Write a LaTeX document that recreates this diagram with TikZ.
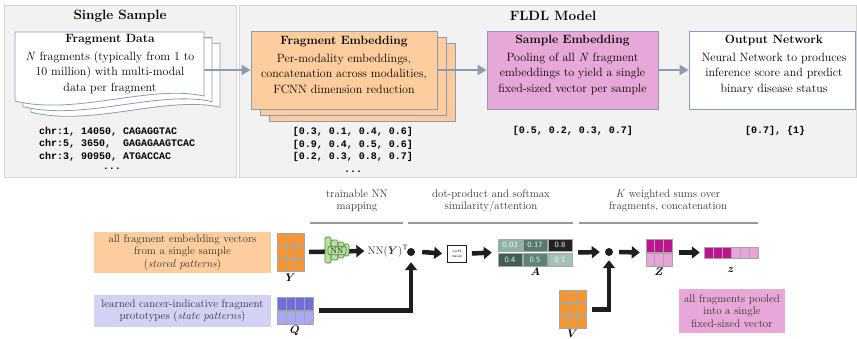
\documentclass[tikz,border=0pt]{standalone}
\usepackage{fontspec}
\usepackage{bm}
\newfontfamily\codefont{Liberation Mono}
\usetikzlibrary{arrows.meta}
\usetikzlibrary{positioning}
\usetikzlibrary{fit}

\definecolor{panelgray}{HTML}{F2F2F2}
\definecolor{panelline}{HTML}{D4D4D4}
\definecolor{boxline}{HTML}{8A9BB2}
\definecolor{embedorange}{HTML}{FDCD9D}
\definecolor{samplepink}{HTML}{E7A8D8}
\definecolor{cellorange}{HTML}{F7952F}
\definecolor{protolilac}{HTML}{D2D2F5}
\definecolor{qdark}{HTML}{6E6EDC}
\definecolor{qlight}{HTML}{A8A8F5}
\definecolor{zdark}{HTML}{BE1490}
\definecolor{zlight}{HTML}{E8A4D8}
\definecolor{nngreen}{HTML}{B8E2A2}
\definecolor{nnline}{HTML}{4E7D3E}
\definecolor{flowblack}{HTML}{1E1E1E}
\definecolor{textgray}{HTML}{333333}
\definecolor{attA}{HTML}{8DB5A5}
\definecolor{attB}{HTML}{55796B}
\definecolor{attC}{HTML}{222222}
\definecolor{attD}{HTML}{3E5F52}
\definecolor{attE}{HTML}{5B8272}
\definecolor{attF}{HTML}{A2C2B4}

\begin{document}
\begin{tikzpicture}[x=1pt, y=-1pt,
    panel/.style={fill=panelgray, draw=panelline, line width=0.8pt},
    stage/.style={draw=boxline, line width=0.9pt, minimum width=186pt, minimum height=78pt},
    stagetext/.style={align=center, font=\fontsize{12}{15.5}\selectfont},
    pagestyle/.style={fill=white, draw=boxline, line width=0.8pt},
    code/.style={font=\codefont\bfseries\fontsize{10}{12.7}\selectfont, inner sep=0pt},
    flow/.style={draw=boxline, line width=2.6pt, -{Triangle[length=9pt, width=10pt]}},
    thick arrow/.style={draw=flowblack, line width=4.5pt, -{Triangle[length=8pt, width=12pt]}},
    note/.style={align=center, text=textgray, font=\fontsize{11}{12.5}\selectfont, inner sep=0pt},
    stepline/.style={draw=gray!80, line width=1.2pt},
    cell/.style={draw=gray!70, line width=0.7pt},
    nnlayer/.style={fill=nngreen, draw=nnline, line width=0.7pt, rounded corners=1.5pt},
    mlabel/.style={font=\fontsize{11}{12}\selectfont, inner sep=0pt}]
  \useasboundingbox (0,0) rectangle (857,338);

  % top panels
  \draw[panel] (4,5) rectangle (236,177);
  \draw[panel] (239,5) rectangle (856.5,177);
  \node[font=\bfseries\fontsize{13.5}{15}\selectfont] (sampletitle) at (120,16) {Single Sample};
  \node[font=\bfseries\fontsize{13.5}{15}\selectfont] (modeltitle) at (553,16) {FLDL Model};

  % stack of fragment pages
  \foreach \d in {16,8,0} {
    \begin{scope}[shift={(\d,0.7*\d)}]
      \draw[pagestyle] (15,32) -- (204,32) -- (204,96)
        .. controls (150,84) and (75,116) .. (15,101) -- cycle;
    \end{scope}
  }
  \coordinate (fragdata) at (204,70);
  \node[stagetext] (fragdatatext) at (110,64)
    {\textbf{Fragment Data}\\[2pt] \emph{N} fragments (typically from 1 to\\ 10 million) with multi-modal\\ data per fragment};

  \node[code, anchor=west, align=left] (reads) at (39,144)
    {chr:1, 14050, CAGAGGTAC\\chr:5, 3650,\ \ GAGAGAAGTCAC\\chr:3, 90950, ATGACCAC};
  \node[code] (readdots) at (112,169) {...};

  % fragment embedding, three copies
  \node[stage, fill=embedorange] (embback) at (362,82) {};
  \node[stage, fill=embedorange] (embmid) at (353,76) {};
  \node[stage, fill=embedorange] (fragemb) at (344,70) {};
  \node[stagetext] (fragembtext) at (344,65)
    {\textbf{Fragment Embedding}\\[2pt] Per-modality embeddings,\\ concatenation across modalities,\\ FCNN dimension reduction};
  \node[code, align=center] (embvecs) at (353,150)
    {[0.3, 0.1, 0.4, 0.6]\\{}[0.9, 0.4, 0.5, 0.6]\\{}[0.2, 0.3, 0.8, 0.7]\\...};

  % sample embedding and output network
  \node[stage, fill=samplepink, minimum width=171pt] (sampleemb) at (572.5,70) {};
  \node[stagetext] (sampleembtext) at (572.5,65)
    {\textbf{Sample Embedding}\\[2pt] Pooling of all \emph{N} fragment\\ embeddings to yield a single\\ fixed-sized vector per sample};
  \node[code] (samplevec) at (573,131) {[0.5, 0.2, 0.3, 0.7]};

  \node[stage, fill=white, minimum width=166pt] (outnet) at (772,70) {};
  \node[stagetext] (outnettext) at (774,65)
    {\textbf{Output Network}\\[2pt] Neural Network to produces\\ inference score and predict\\ binary disease status};
  \node[code] (outvec) at (775,131) {[0.7], \{1\}};

  \draw[flow] (fragdata) -- (fragemb.west);
  \draw[flow] (fragemb.east) -- (sampleemb.west);
  \draw[flow] (sampleemb.east) -- (outnet.west);

  % step headings
  \node[note] (nnhead) at (357,201) {trainable NN\\ mapping};
  \node[note] (atthead) at (491,201) {dot-product and softmax\\ similarity/attention};
  \node[note] (sumhead) at (668,201) {\emph{K} weighted sums over\\ fragments, concatenation};
  \draw[stepline] (310,223) -- (403,223);
  \draw[stepline] (408,223) -- (573,223);
  \draw[stepline] (579,223) -- (758,223);

  % pattern descriptions
  \node[note, fill=embedorange, minimum width=177pt, minimum height=41pt] (storedbox) at (182.5,252.5)
    {all fragment embedding vectors\\ from a single sample\\ (\emph{stored patterns})};
  \node[note, fill=protolilac, minimum width=177pt, minimum height=32pt] (statebox) at (182.5,311)
    {learned cancer-indicative fragment\\ prototypes (\emph{state patterns})};
  \node[note, fill=samplepink, minimum width=106pt, minimum height=44pt] (pooledbox) at (732,311)
    {all fragments pooled\\ into a single\\ fixed-sized vector};

  % Y and V matrices
  \foreach \r in {0,1,2} {
    \foreach \c in {0,1,2} {
      \draw[cell, fill=cellorange] (277+9*\c,233+13.3*\r) rectangle ++(9,12);
      \draw[cell, fill=cellorange] (559+9*\c,290+13.3*\r) rectangle ++(9,12);
    }
  }
  \node[fit={(277,233) (304,272)}, inner sep=0pt] (ymat) {};
  \node[fit={(559,290) (586,329)}, inner sep=0pt] (vmat) {};
  \node[mlabel, below=2pt of ymat] (ylabel) {$\bm{Y}$};
  \node[mlabel, below=0.5pt of vmat] (vlabel) {$\bm{V}$};

  % Q matrix
  \foreach \c in {0,...,3} {
    \draw[cell, fill=qdark] (277+9*\c,297) rectangle ++(9,13);
    \draw[cell, fill=qlight] (277+9*\c,311) rectangle ++(9,13);
  }
  \node[fit={(277,297) (313,324)}, inner sep=0pt] (qmat) {};
  \node[mlabel, below=2pt of qmat] (qlabel) {$\bm{Q}$};

  % attention matrix
  \foreach \c/\v/\col in {0/0.03/attA, 1/0.17/attB, 2/0.8/attC} {
    \draw[cell, fill=\col] (498+25*\c,239) rectangle ++(24,12.5)
      node[midway, text=white!90!gray, font=\sffamily\fontsize{8}{8}\selectfont] {\v};
  }
  \foreach \c/\v/\col in {0/0.4/attD, 1/0.5/attE, 2/0.1/attF} {
    \draw[cell, fill=\col] (498+25*\c,253.5) rectangle ++(24,12.5)
      node[midway, text=white!90!gray, font=\sffamily\fontsize{8}{8}\selectfont] {\v};
  }
  \node[fit={(498,239) (573,266)}, inner sep=0pt] (amat) {};
  \node[mlabel, below=2pt of amat] (alabel) {$\bm{A}$};

  % Z matrix and pooled vector z
  \foreach \c in {0,1,2} {
    \draw[cell, fill=zdark] (646+8.8*\c,239) rectangle ++(8.8,13);
    \draw[cell, fill=zlight] (646+8.8*\c,253) rectangle ++(8.8,13);
  }
  \foreach \c in {0,...,5} {
    \ifnum\c<3 \def\zcol{zdark}\else\def\zcol{zlight}\fi
    \draw[cell, fill=\zcol] (704+9*\c,247) rectangle ++(9,11);
  }
  \node[fit={(646,239) (672.4,266)}, inner sep=0pt] (zmat) {};
  \node[fit={(704,247) (758,258)}, inner sep=0pt] (zvec) {};
  \node[mlabel, below=2pt of zmat] (zlabel) {$\bm{Z}$};
  \node[mlabel, below=9pt of zvec] (zveclabel) {$\bm{z}$};

  % NN mapping
  \coordinate (ystart) at (309,252);
  \node[inner sep=0pt, font=\fontsize{11}{12}\selectfont, text=textgray] (nnout) at (388,251) {$\mathrm{NN}(\bm{Y})^{\mathsf{T}}$};
  \draw[thick arrow] (ystart) -- ([xshift=-3pt]nnout.west);
  \draw[nnlayer] (325,237) rectangle (331,263);
  \draw[nnlayer] (331,240) rectangle (338,260);
  \draw[nnlayer] (338,242) rectangle (344,258);
  \draw[nnlayer] (344,244) rectangle (349,256);
  \node[nnlayer, draw, font=\fontsize{8}{8}\selectfont, inner sep=1.5pt, minimum width=18pt] (nn) at (337,250.5) {NN};

  % products and softmax
  \node[circle, fill=flowblack, inner sep=0pt, minimum size=8pt] (dotone) at (411,252) {};
  \node[circle, fill=flowblack, inner sep=0pt, minimum size=8pt] (dottwo) at (609,252) {};
  \node[draw=flowblack, fill=white, line width=0.7pt, minimum width=19pt, minimum height=17pt,
        inner sep=0pt, align=center, font=\fontsize{4}{5}\selectfont] (softmax) at (457,253.5) {soft\\ max};

  \coordinate (qcorner) at (dotone |- qmat.east);
  \coordinate (vcorner) at (dottwo |- vmat.east);
  \draw[thick arrow, -] ([xshift=6pt]qmat.east) -- ([xshift=2.25pt]qcorner);
  \draw[thick arrow] (qcorner) -- ([yshift=-6pt]dotone.south);
  \draw[thick arrow, -] ([xshift=6pt]vmat.east) -- ([xshift=2.25pt]vcorner);
  \draw[thick arrow] (vcorner) -- ([yshift=-4pt]dottwo.south);

  \draw[thick arrow] ([xshift=7pt]dotone.east) -- ([xshift=-5pt]softmax.west);
  \draw[thick arrow] ([xshift=5pt]softmax.east) -- ([xshift=-6pt]amat.west);
  \draw[thick arrow] ([xshift=5pt]amat.east) -- ([xshift=-5pt]dottwo.west);
  \draw[thick arrow] ([xshift=6pt]dottwo.east) -- ([xshift=-6pt]zmat.west);
  \draw[thick arrow] ([xshift=6pt]zmat.east) -- ([xshift=-4pt]zvec.west);
\end{tikzpicture}
\end{document}
